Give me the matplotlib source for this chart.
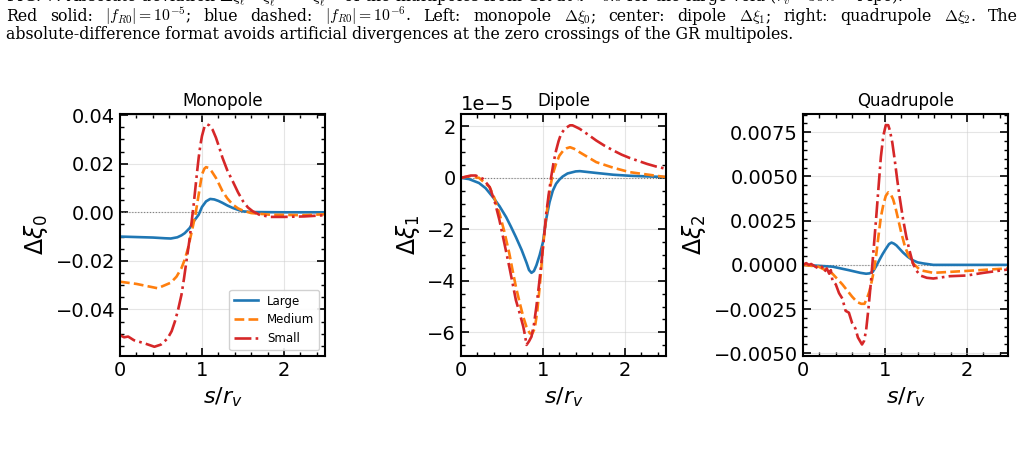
import numpy as np
import matplotlib.pyplot as plt
from matplotlib.ticker import AutoMinorLocator

plt.rcParams['mathtext.fontset'] = 'dejavusans'

# ---- data ----
# monopole
s0_large = [0, 0.2, 0.4, 0.55, 0.62, 0.7, 0.75, 0.79, 0.85, 0.9, 0.96, 1.0, 1.05, 1.1, 1.15, 1.2, 1.25, 1.31, 1.375, 1.45, 1.5, 1.6, 2.0, 2.5]
m_large = [-0.0100, -0.0102, -0.0104, -0.0107, -0.0108, -0.0103, -0.0095, -0.0086, -0.0065, -0.0037, -0.0010, 0.0022, 0.0045, 0.0055, 0.0053, 0.0047, 0.0039, 0.0028, 0.0018, 0.0009, 0.0004, 0.0001, 0.0, 0.0]
s0_medium = [0, 0.2, 0.46, 0.62, 0.69, 0.75, 0.79, 0.83, 0.875, 0.92, 0.96, 1.0, 1.03, 1.05, 1.08, 1.12, 1.17, 1.21, 1.25, 1.31, 1.375, 1.44, 1.5, 1.6, 1.83, 2.25, 2.5]
m_medium = [-0.0286, -0.0295, -0.0313, -0.0290, -0.0265, -0.0230, -0.0195, -0.0148, -0.0080, -0.0010, 0.0073, 0.0156, 0.0180, 0.0186, 0.0183, 0.0168, 0.0142, 0.0115, 0.0087, 0.0057, 0.0032, 0.0016, 0.0007, -0.0003, -0.0010, -0.0012, -0.0008]
s0_small = [0, 0.05, 0.1, 0.17, 0.3, 0.42, 0.5, 0.58, 0.63, 0.67, 0.71, 0.75, 0.78, 0.81, 0.845, 0.875, 0.9, 0.92, 0.94, 0.96, 0.98, 1.0, 1.03, 1.06, 1.09,
            1.13, 1.17, 1.21, 1.25, 1.31, 1.375, 1.44, 1.5, 1.56, 1.62, 1.7, 1.83, 2.0, 2.25, 2.5]
m_small = [-0.0506, -0.0515, -0.0512, -0.0527, -0.0540, -0.0554, -0.0545, -0.0520, -0.0490, -0.0450, -0.0400, -0.0340, -0.0275, -0.0203, -0.0120, -0.0037, 0.0035, 0.0100, 0.0165, 0.0225, 0.0275, 0.0314, 0.0352, 0.0363, 0.0358,
           0.0340, 0.0308, 0.0268, 0.0225, 0.0172, 0.0128, 0.0082, 0.0046, 0.0020, 0.0004, -0.0010, -0.0019, -0.0019, -0.0017, -0.0012]

# dipole (units of 1e-5)
s1_large = [0, 0.1, 0.22, 0.3, 0.39, 0.47, 0.55, 0.61, 0.67, 0.74, 0.8, 0.83, 0.86, 0.89, 0.92, 0.96, 1.0, 1.04, 1.08, 1.12, 1.16, 1.2, 1.24, 1.3, 1.4, 1.45, 1.65, 1.86, 2.06, 2.5]
d_large = [0, -0.05, -0.2, -0.4, -0.75, -1.1, -1.52, -1.9, -2.3, -2.8, -3.3, -3.58, -3.69, -3.62, -3.40, -3.0, -2.5, -1.6, -0.95, -0.5, -0.23, -0.07, 0.05, 0.17, 0.25, 0.26, 0.19, 0.12, 0.08, 0.03]
s1_medium = [0, 0.1, 0.22, 0.35, 0.41, 0.47, 0.53, 0.59, 0.63, 0.67, 0.72, 0.76, 0.8, 0.84, 0.87, 0.9, 0.93, 0.96, 0.98, 1.0, 1.03, 1.06, 1.09, 1.12, 1.16,
             1.2, 1.25, 1.29, 1.33, 1.38, 1.45, 1.55, 1.65, 1.86, 2.06, 2.5]
d_medium = [0, 0.06, 0, -0.36, -0.8, -1.39, -2.1, -2.94, -3.6, -4.23, -4.9, -5.4, -5.8, -6.04, -6.05, -5.85, -5.2, -4.23, -3.5, -2.68, -1.8, -1.0, -0.35, 0.15, 0.55,
            0.86, 1.07, 1.15, 1.19, 1.13, 0.99, 0.80, 0.61, 0.39, 0.22, 0.03]
s1_small = [0, 0.12, 0.18, 0.27, 0.35, 0.41, 0.47, 0.53, 0.59, 0.63, 0.67, 0.72, 0.76, 0.78, 0.8, 0.83, 0.86, 0.89, 0.92, 0.95, 0.98, 1.01, 1.04, 1.07, 1.1, 1.13,
            1.16, 1.19, 1.22, 1.26, 1.29, 1.33, 1.36, 1.4, 1.45, 1.55, 1.65, 1.75, 1.86, 1.96, 2.06, 2.17, 2.27, 2.38, 2.5]
d_small = [0, 0.09, 0.09, -0.04, -0.36, -0.9, -1.65, -2.55, -3.46, -4.1, -4.75, -5.3, -5.78, -6.1, -6.49, -6.35, -6.17, -5.7, -5.0, -4.2, -3.33, -2.4, -1.39, -0.65, 0.03, 0.6,
           1.06, 1.42, 1.70, 1.88, 1.96, 2.04, 2.04, 1.98, 1.90, 1.68, 1.45, 1.25, 1.06, 0.90, 0.77, 0.65, 0.54, 0.44, 0.35]

# quadrupole
s2_large = [0, 0.36, 0.56, 0.7, 0.77, 0.81, 0.85, 0.89, 0.93, 0.97, 1.01, 1.05, 1.08, 1.11, 1.14, 1.18, 1.22, 1.28, 1.34, 1.4, 1.47, 1.59, 2.0, 2.5]
q_large = [0, -0.0001, -0.0003, -0.00045, -0.0005, -0.00048, -0.0004, -0.0001, 0.00026, 0.0006, 0.0009, 0.00118, 0.00126, 0.0012, 0.0011, 0.0009, 0.0007, 0.00045, 0.00026, 0.00014, 0.00008, 0.0, 0.0, 0.0]
s2_medium = [0, 0.19, 0.36, 0.48, 0.6, 0.66, 0.71, 0.75, 0.78, 0.81, 0.84, 0.87, 0.89, 0.92, 0.95, 0.98, 1.01, 1.04, 1.07, 1.1, 1.13, 1.16, 1.2, 1.24, 1.28,
             1.34, 1.43, 1.59, 2.0, 2.5]
q_medium = [0, -0.0001, -0.0005, -0.0011, -0.0018, -0.0021, -0.0022, -0.0022, -0.0019, -0.0015, -0.0009, -0.0002, 0.00045, 0.0016, 0.0027, 0.0034, 0.0039, 0.0041, 0.0040, 0.0037, 0.0032, 0.0026, 0.0018, 0.0011, 0.0006,
            0.0001, -0.0003, -0.00045, -0.00034, -0.0002]
s2_small = [0, 0.04, 0.07, 0.1, 0.15, 0.19, 0.23, 0.26, 0.29, 0.32, 0.34, 0.36, 0.4, 0.44, 0.48, 0.52, 0.56, 0.6, 0.64, 0.67, 0.72, 0.745,
            0.77, 0.8, 0.83, 0.86, 0.89, 0.92, 0.95, 0.98, 1.01, 1.04, 1.06, 1.09, 1.12, 1.15, 1.18, 1.22, 1.26, 1.3, 1.34, 1.38, 1.43, 1.51, 1.59, 1.79, 2.0, 2.2, 2.5]
q_small = [0, 0.0001, 0.0, 0.00005, -0.0001, -0.0002, -0.0001, -0.0004, -0.0002, -0.0005, -0.0003, -0.0009, -0.0011, -0.0016, -0.0019, -0.0026, -0.0027, -0.0033, -0.0036, -0.0041, -0.0045, -0.0043,
           -0.0037, -0.0024, -0.0009, 0.0008, 0.0025, 0.0043, 0.0061, 0.0073, 0.0079, 0.0079, 0.0076, 0.0069, 0.0059, 0.0048, 0.0038, 0.0026, 0.0016, 0.0008, 0.0001, -0.0003, -0.0006, -0.00073, -0.00077, -0.00064, -0.0006, -0.00045, -0.00026]

labels = ['Large', 'Medium', 'Small']
colors = ['#1f77b4', '#ff7f0e', '#d62728']
styles = ['-', '--', '-.']

panels = [
    ('Monopole', r'$\Delta\xi_0$', [(s0_large, m_large), (s0_medium, m_medium), (s0_small, m_small)], 1.0, (-0.0592, 0.0405)),
    ('Dipole', r'$\Delta\xi_1$', [(s1_large, d_large), (s1_medium, d_medium), (s1_small, d_small)], 1e-5, (-6.92e-5, 2.48e-5)),
    ('Quadrupole', r'$\Delta\xi_2$', [(s2_large, q_large), (s2_medium, q_medium), (s2_small, q_small)], 1.0, (-0.00515, 0.00853)),
]

fig = plt.figure(figsize=(10.28, 4.54), dpi=100)
lefts = [0.1167, 0.4484, 0.7811]

for left, (title, ylab, series, scale, ylim) in zip(lefts, panels):
    ax = fig.add_axes([left, 0.2159, 0.1994, 0.533])
    ax.axhline(0, color='gray', ls=':', lw=0.8)
    for (s, v), lab, c, ls in zip(series, labels, colors, styles):
        ax.plot(s, np.array(v) * scale, color=c, ls=ls, lw=1.9, label=lab)
    ax.set_xlim(0, 2.5)
    ax.set_ylim(*ylim)
    ax.set_title(title, fontsize=12, pad=6)
    ax.set_ylabel(ylab, fontsize=17)
    ax.set_xlabel(r'$s/r_v$', fontsize=16)
    ax.grid(True, color='#cccccc', alpha=0.5, lw=0.8)
    ax.xaxis.set_minor_locator(AutoMinorLocator())
    ax.yaxis.set_minor_locator(AutoMinorLocator())
    ax.tick_params(which='both', direction='in', top=True, right=True, labelsize=14)
    ax.tick_params(which='major', length=6, width=1.2)
    ax.tick_params(which='minor', length=3, width=1.0)
    for sp in ax.spines.values():
        sp.set_linewidth(1.5)
    ax.yaxis.get_offset_text().set_fontsize(14)
    if title == 'Monopole':
        ax.legend(loc='lower right', fontsize=8.5, framealpha=0.9)

# caption fragments of the surrounding page
cap = dict(family='DejaVu Serif', fontsize=11.3, math_fontfamily='cm')
fig.text(6 / 1028, 1 - 2.5 / 454,
         r'FIG. 7: Absolute deviation $\Delta\xi_\ell = \xi_\ell^{f(R)} - \xi_\ell^{\rm GR}$ of the multipoles from GR at $z = 0.0$ for the large void ($r_v = 30\,h^{-1}$ Mpc).',
         va='baseline', **cap)

# justified second line: spread the words between x=6 and x=1018 px
line2 = [r'Red', r'solid:', r'$|f_{R0}| = 10^{-5}$;', r'blue', r'dashed:', r'$|f_{R0}| = 10^{-6}$.',
         r'Left:', r'monopole', r'$\Delta\xi_0$;', r'center:', r'dipole', r'$\Delta\xi_1$;',
         r'right:', r'quadrupole', r'$\Delta\xi_2$.', r'The']
renderer = fig.canvas.get_renderer()
words = [fig.text(0, 1 - 21 / 454, w, va='baseline', **cap) for w in line2]
widths = [t.get_window_extent(renderer).width for t in words]
gap = (1012 - sum(widths)) / (len(words) - 1)
x = 6
for t, w in zip(words, widths):
    t.set_x(x / 1028)
    x += w + gap

fig.text(6 / 1028, 1 - 39 / 454,
         'absolute-difference format avoids artificial divergences at the zero crossings of the GR multipoles.',
         va='baseline', **cap)

fig.savefig('out.png', dpi=100)
